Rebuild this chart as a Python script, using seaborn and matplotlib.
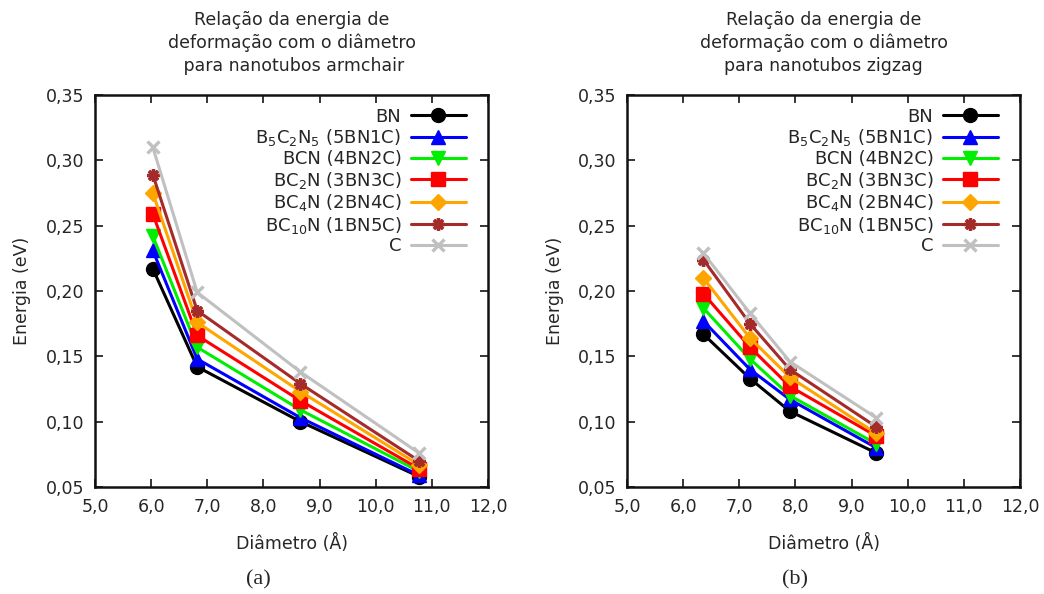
import matplotlib
matplotlib.use("Agg")
import matplotlib.pyplot as plt
import seaborn as sns
import pandas as pd

# ---- data ----
series_labels = [r"BN", r"B$_5$C$_2$N$_5$ (5BN1C)", r"BCN (4BN2C)", r"BC$_2$N (3BN3C)",
                 r"BC$_4$N (2BN4C)", r"BC$_{10}$N (1BN5C)", r"C"]

x_armchair = [6.03, 6.82, 8.66, 10.77]
armchair_BN = [0.217, 0.142, 0.100, 0.058]
armchair_5BN1C = [0.231, 0.148, 0.103, 0.059]
armchair_4BN2C = [0.242, 0.157, 0.109, 0.062]
armchair_3BN3C = [0.259, 0.166, 0.116, 0.064]
armchair_2BN4C = [0.275, 0.176, 0.123, 0.067]
armchair_1BN5C = [0.289, 0.185, 0.129, 0.070]
armchair_C = [0.310, 0.199, 0.138, 0.076]

x_zigzag = [6.36, 7.19, 7.90, 9.44]
zigzag_BN = [0.167, 0.133, 0.108, 0.076]
zigzag_5BN1C = [0.177, 0.140, 0.117, 0.080]
zigzag_4BN2C = [0.187, 0.148, 0.120, 0.083]
zigzag_3BN3C = [0.198, 0.157, 0.127, 0.089]
zigzag_2BN4C = [0.210, 0.164, 0.134, 0.091]
zigzag_1BN5C = [0.224, 0.175, 0.140, 0.096]
zigzag_C = [0.229, 0.183, 0.146, 0.103]

armchair_values = [armchair_BN, armchair_5BN1C, armchair_4BN2C, armchair_3BN3C,
                   armchair_2BN4C, armchair_1BN5C, armchair_C]
zigzag_values = [zigzag_BN, zigzag_5BN1C, zigzag_4BN2C, zigzag_3BN3C,
                 zigzag_2BN4C, zigzag_1BN5C, zigzag_C]

xticks = [5.0, 6.0, 7.0, 8.0, 9.0, 10.0, 11.0, 12.0]
xtick_labels = ["5,0", "6,0", "7,0", "8,0", "9,0", "10,0", "11,0", "12,0"]
yticks = [0.05, 0.10, 0.15, 0.20, 0.25, 0.30, 0.35]
ytick_labels = ["0,05", "0,10", "0,15", "0,20", "0,25", "0,30", "0,35"]

titles = ["Relação da energia de\ndeformação com o diâmetro\n para nanotubos armchair",
          "Relação da energia de\ndeformação com o diâmetro\npara nanotubos zigzag"]
panel_labels = ["(a)", "(b)"]

# ---- styles ----
colors = ["#000000", "#0000ff", "#00ee00", "#ff0000", "#ffa500", "#a52a2a", "#c0c0c0"]
markers = ["o", "^", "v", "s", "D", (8, 2, 0), "x"]
msizes = [10, 10, 10, 10, 8, 9, 9]
mews = [1, 1, 1, 1, 1, 2.4, 2.4]

sns.set_style("ticks")
plt.rcParams["font.family"] = ["DejaVu Sans"]
plt.rcParams["mathtext.fontset"] = "dejavusans"

fig = plt.figure(figsize=(10.44, 5.94), dpi=100)
axes = [fig.add_axes([95 / 1044, 107 / 594, 393 / 1044, 392 / 594]),
        fig.add_axes([627 / 1044, 107 / 594, 393 / 1044, 392 / 594])]

datasets = [(x_armchair, armchair_values), (x_zigzag, zigzag_values)]
tc = "#262626"

for i, ax in enumerate(axes):
    xs, vals = datasets[i]
    for j, lab in enumerate(series_labels):
        df = pd.DataFrame({"x": xs, "y": vals[j]})
        sns.lineplot(data=df, x="x", y="y", ax=ax, color=colors[j], marker=markers[j],
                     markersize=msizes[j], markeredgewidth=mews[j], markeredgecolor=colors[j],
                     linewidth=2.2, label=lab, zorder=3 + j)
    ax.set_xlim(5.0, 12.0)
    ax.set_ylim(0.05, 0.35)
    ax.set_xticks(xticks)
    ax.set_xticklabels(xtick_labels)
    ax.set_yticks(yticks)
    ax.set_yticklabels(ytick_labels)
    ax.tick_params(direction="in", length=6, width=1.3, top=True, right=True,
                   labelsize=12.5, colors=tc, pad=8)
    for sp in ax.spines.values():
        sp.set_visible(True)
        sp.set_linewidth(1.8)
        sp.set_color("#111111")
    ax.set_xlabel("Diâmetro (Å)", fontsize=12.5, color=tc, labelpad=13)
    ax.set_ylabel("Energia (eV)", fontsize=12.5, color=tc, labelpad=10)
    ax.set_title(titles[i], fontsize=12.5, color=tc, pad=17, linespacing=1.35)
    leg = ax.legend(loc="upper right", markerfirst=False, frameon=False, fontsize=13,
                    handlelength=3.0, labelspacing=0.09, borderaxespad=0.3,
                    handletextpad=0.55, bbox_to_anchor=(0.975, 1.0))
    for t in leg.get_texts():
        t.set_color(tc)

fig.text(258 / 1044, 1 - 580 / 594, panel_labels[0], family="Liberation Serif",
         fontsize=16, ha="center", va="center")
fig.text(795 / 1044, 1 - 580 / 594, panel_labels[1], family="Liberation Serif",
         fontsize=16, ha="center", va="center")

fig.savefig("out.png", dpi=100, facecolor="white")
